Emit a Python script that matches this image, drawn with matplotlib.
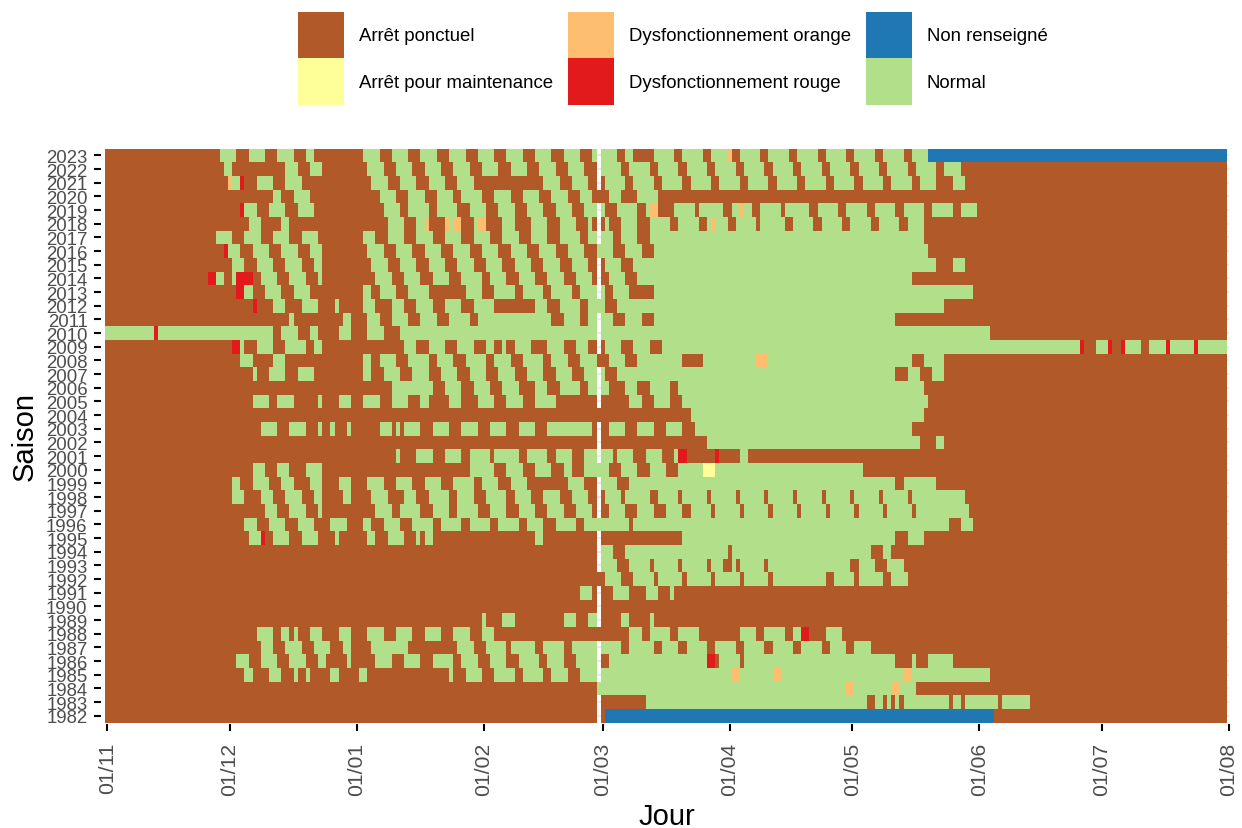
"""
Etat de fonctionnement journalier par saison (1982 - 2023)
"""

import matplotlib
matplotlib.use('Agg')
import matplotlib.pyplot as plt
from matplotlib.colors import BoundaryNorm, ListedColormap
from matplotlib.patches import Patch
import numpy as np

plt.rcParams['font.family'] = ['Liberation Sans', 'DejaVu Sans']

#---------------------------------------------------------------------------------------------------
# Data: runs of "Normal" days (first day, day after last), day 0 = 1 Nov, 274 days in a leap season
#---------------------------------------------------------------------------------------------------

n_days = 274
day_29feb = 120

normal_1982 = []
normal_1983 = [(132,186),(188,190),(191,192),(193,194),(195,206),(207,209),(210,218),(219,226)]
normal_1984 = [(120,181),(183,192),(194,198)]
normal_1985 = [(34,36),(40,43),(46,47),(49,50),(55,57),(62,64),(84,85),(88,92),(95,100),(102,107),(109,113),(116,120),
               (121,153),(155,163),(165,195),(197,216)]
normal_1986 = [(32,35),(38,42),(45,49),(52,54),(59,60),(66,70),(73,77),(80,85),(87,91),(94,98),(101,106),(108,112),
               (115,120),(123,147),(150,155),(156,193),(197,198),(201,207)]
normal_1987 = [(38,41),(44,48),(51,55),(58,60),(65,74),(86,90),(93,98),(99,105),(107,112),(114,120),(121,126),(128,134),
               (136,140),(142,147),(149,154),(156,161),(163,168),(170,175),(177,181),(183,187)]
normal_1988 = [(37,41),(43,45),(46,47),(50,53),(57,60),(64,68),(71,75),(78,82),(85,89),(92,95),(128,131),(133,138),
               (140,145),(155,159),(161,166),(168,170),(176,180)]
normal_1989 = [(92,93),(97,100),(112,115),(118,120),(126,128),(133,134)]
normal_1990 = []
normal_1991 = [(116,119),(124,128),(132,135),(138,139)]
normal_1992 = [(122,126),(129,134),(135,141),(142,148),(149,155),(156,162),(163,176),(178,183),(184,190),(192,196)]
normal_1993 = [(121,125),(128,133),(134,140),(141,147),(148,151),(153,154),(155,161),(162,182),(184,188),(191,195)]
normal_1994 = [(121,124),(127,152),(153,187),(190,192)]
normal_1995 = [(35,38),(41,45),(48,52),(56,57),(64,66),(69,73),(76,77),(78,80),(105,107),(141,193),(196,200)]
normal_1996 = [(34,37),(40,44),(47,51),(55,59),(63,65),(68,72),(75,80),(82,87),(89,94),(96,101),(103,107),(110,115),
               (117,128),(129,206),(209,212)]
normal_1997 = [(39,42),(45,49),(52,53),(66,70),(72,77),(80,84),(86,91),(94,98),(101,105),(108,112),(115,119),(123,127),
               (130,134),(137,141),(143,148),(149,155),(156,162),(163,169),(170,176),(177,183),(184,190),(191,197),(198,211)]
normal_1998 = [(31,34),(38,41),(44,48),(51,53),(58,60),(65,69),(73,76),(79,84),(86,90),(93,98),(100,104),(107,111),
               (114,118),(122,126),(127,133),(135,140),(141,147),(148,154),(155,161),(162,168),(169,175),(176,182),
               (183,189),(190,196),(197,210)]
normal_1999 = [(31,33),(36,40),(43,46),(50,53),(57,60),(64,68),(71,75),(78,82),(85,90),(92,96),(99,103),(113,117),
               (121,125),(128,193),(195,203)]
normal_2000 = [(36,39),(42,45),(49,53),(89,95),(98,102),(105,109),(112,114),(117,123),(126,130),(133,137),(140,146),(149,185)]
normal_2001 = [(71,72),(76,80),(83,87),(89,94),(95,101),(103,108),(110,114),(117,124),(125,129),(132,136),(139,140),(155,157)]
normal_2002 = [(147,199),(203,205)]
normal_2003 = [(38,42),(45,49),(52,53),(55,56),(59,60),(67,70),(71,72),(73,77),(80,84),(87,91),(94,98),(101,105),
               (108,119),(123,127),(130,134),(137,141),(144,197)]
normal_2004 = [(143,200)]
normal_2005 = [(36,40),(42,46),(52,53),(57,60),(63,67),(70,74),(77,79),(84,87),(91,95),(98,102),(105,110),(128,131),
               (134,138),(141,201)]
normal_2006 = [(70,80),(83,87),(90,94),(97,101),(105,108),(111,116),(118,123),(127,130),(133,138),(140,200)]
normal_2007 = [(36,37),(40,44),(47,51),(63,65),(68,72),(75,79),(82,86),(89,93),(96,100),(103,107),(110,114),(117,122),
               (125,193),(196,199),(202,205)]
normal_2008 = [(33,36),(41,44),(63,65),(67,71),(74,79),(81,85),(88,93),(95,99),(102,107),(109,113),(116,120),(123,127),
               (130,141),(146,197),(200,205)]
normal_2009 = [(33,34),(37,41),(44,49),(51,53),(73,76),(79,83),(86,90),(93,95),(97,98),(100,104),(108,112),(115,118),
               (122,126),(129,133),(136,238),(242,245),(249,253),(255,259),(260,266),(267,274)]
normal_2010 = [(0,12),(13,41),(43,47),(50,52),(57,60),(64,68),(72,216)]
normal_2011 = [(45,46),(58,60),(64,67),(70,74),(77,81),(84,89),(91,109),(112,116),(118,124),(127,131),(134,193)]
normal_2012 = [(41,44),(48,52),(56,57),(63,66),(70,73),(76,80),(83,87),(90,95),(105,108),(111,116),(118,122),(125,205)]
normal_2013 = [(34,36),(39,43),(46,50),(63,65),(67,71),(74,79),(88,92),(95,100),(102,107),(109,114),(116,122),(124,128),(134,212)]
normal_2014 = [(27,29),(31,32),(38,42),(45,49),(52,53),(66,70),(73,77),(80,84),(87,92),(94,98),(101,105),(108,112),
               (115,119),(123,127),(130,197)]
normal_2015 = [(31,34),(37,41),(44,48),(51,53),(65,69),(72,76),(79,83),(86,90),(93,97),(100,104),(107,111),(114,118),
               (122,126),(129,203),(207,210)]
normal_2016 = [(30,33),(36,40),(43,47),(50,53),(64,68),(71,75),(78,82),(85,89),(92,96),(99,103),(106,110),(113,117),
               (120,124),(127,131),(134,201)]
normal_2017 = [(27,31),(34,38),(41,45),(48,52),(63,66),(69,73),(76,80),(83,87),(90,94),(97,101),(104,108),(111,116),
               (118,124),(126,130),(133,200)]
normal_2018 = [(35,38),(43,45),(69,73),(76,78),(84,85),(90,91),(97,100),(104,108),(111,115),(118,119),(122,123),(126,130),
               (133,138),(140,145),(147,148),(149,152),(154,159),(160,166),(168,173),(175,180),(182,187),(189,194),(196,200)]
normal_2019 = [(34,37),(40,44),(47,51),(68,72),(74,79),(81,86),(89,93),(96,100),(103,107),(110,114),(117,122),(125,130),
               (132,133),(139,144),(145,151),(153,155),(156,158),(160,165),(166,172),(174,179),(181,186),(188,193),
               (195,200),(202,207),(209,213)]
normal_2020 = [(41,43),(46,50),(67,71),(74,78),(81,85),(87,92),(95,99),(102,106),(109,113),(116,119),(123,126),(130,135)]
normal_2021 = [(31,33),(37,41),(44,48),(65,69),(72,76),(79,83),(86,90),(107,111),(114,118),(122,127),(129,134),(136,141),
               (143,148),(150,155),(157,162),(164,169),(171,176),(178,183),(185,190),(192,197),(199,203),(207,210)]
normal_2022 = [(29,31),(44,47),(50,53),(64,68),(71,75),(78,82),(85,89),(92,96),(99,103),(106,110),(113,117),(121,126),
               (128,133),(135,140),(142,147),(149,154),(156,161),(163,168),(170,175),(177,182),(184,189),(191,196),
               (198,203),(205,209)]
normal_2023 = [(28,32),(35,39),(42,46),(49,51),(63,67),(70,74),(77,81),(84,88),(91,95),(98,102),(105,109),(112,116),
               (119,125),(127,129),(134,139),(141,146),(148,152),(155,160),(162,167),(169,174),(176,181),(183,188),
               (190,195),(197,201)]

# Other states: (season, first day, day after last)
orange_runs = [(2023,152,153),(2021,30,31),(2019,133,135),(2019,155,156),(2018,78,79),(2018,83,84),(2018,85,87),
               (2018,91,93),(2018,148,149),(2008,159,162),(1985,153,155),(1985,163,165),(1985,195,197),
               (1984,181,183),(1984,192,194)]
red_runs = [(2021,33,34),(2019,33,34),(2016,29,30),(2014,25,27),(2014,32,36),(2013,32,34),(2012,36,37),(2010,12,13),
            (2009,31,33),(2009,238,239),(2009,245,246),(2009,248,249),(2009,259,260),(2009,266,267),
            (2001,140,142),(2001,149,150),(1995,38,39),(1988,170,172),(1986,147,149)]
yellow_runs = [(2000,146,149)]
blue_runs = [(2023,201,274),(1982,122,217)]

seasons = np.arange(1982, 2024)
normal_runs = [normal_1982, normal_1983, normal_1984, normal_1985, normal_1986, normal_1987, normal_1988,
               normal_1989, normal_1990, normal_1991, normal_1992, normal_1993, normal_1994, normal_1995,
               normal_1996, normal_1997, normal_1998, normal_1999, normal_2000, normal_2001, normal_2002,
               normal_2003, normal_2004, normal_2005, normal_2006, normal_2007, normal_2008, normal_2009,
               normal_2010, normal_2011, normal_2012, normal_2013, normal_2014, normal_2015, normal_2016,
               normal_2017, normal_2018, normal_2019, normal_2020, normal_2021, normal_2022, normal_2023]

state_labels = ['Arrêt ponctuel', 'Arrêt pour maintenance', 'Dysfonctionnement orange',
                'Dysfonctionnement rouge', 'Non renseigné', 'Normal']
state_colors = ['#B15928', '#FFFF99', '#FDBF6F', '#E31A1C', '#1F78B4', '#B2DF8A']

month_days = [0, 30, 61, 92, 121, 152, 182, 213, 243, 274]
month_labels = ['01/11', '01/12', '01/01', '01/02', '01/03', '01/04', '01/05', '01/06', '01/07', '01/08']

#---------------------------------------------------------------------------------------------------
# Build grid
#---------------------------------------------------------------------------------------------------

grid = np.zeros((len(seasons), n_days))
for i, runs in enumerate(normal_runs):
    for start, stop in runs:
        grid[i, start:stop] = 5
for state, runs in zip([1, 2, 3, 4], [yellow_runs, orange_runs, red_runs, blue_runs]):
    for season, start, stop in runs:
        grid[season - seasons[0], start:stop] = state

# 29 Feb only exists in leap years
for i, season in enumerate(seasons):
    if season % 4 != 0:
        grid[i, day_29feb] = np.nan

#---------------------------------------------------------------------------------------------------
# Plot
#---------------------------------------------------------------------------------------------------

width, height = 1242, 829
fig = plt.figure(figsize=(width/100, height/100), dpi=100)
ax = fig.add_axes([105.25/width, 1 - 723.6/height, (1229 - 105.25)/width, (723.6 - 149.6)/height])

x_edges = np.arange(n_days + 1) - 0.5
y_edges = np.arange(len(seasons) + 1) - 0.5
cmap = ListedColormap(state_colors)
norm = BoundaryNorm(np.arange(7) - 0.5, cmap.N)
ax.pcolormesh(x_edges, y_edges, np.ma.masked_invalid(grid), cmap=cmap, norm=norm, antialiased=False, zorder=2)

ax.set_xlim(-0.5, n_days)
ax.set_ylim(-0.5, len(seasons) - 0.5)
ax.grid(axis='y', color='#EBEBEB', lw=1.4)
ax.set_axisbelow(True)
for s in ax.spines.values():
    s.set_visible(False)
ax.spines['left'].set_position(('outward', 2.9))
ax.spines['bottom'].set_position(('outward', 1))

ax.set_xticks(month_days, labels=month_labels, rotation=90, ha='center', va='top')
ax.set_yticks(np.arange(len(seasons)), labels=seasons)
ax.tick_params(axis='x', length=4.8, width=1.5, color='k', labelsize=15.3, labelcolor='#4D4D4D', pad=8)
ax.tick_params(axis='y', length=4.8, width=1.5, color='k', labelsize=13.4, labelcolor='#4D4D4D', pad=5)
ax.set_xlabel('Jour', size=21, labelpad=5)
ax.set_ylabel('Saison', size=21, labelpad=5.5)

handles = [Patch(facecolor=c, edgecolor='none', label=l) for c, l in zip(state_colors, state_labels)]
fig.legend(handles=handles, ncol=3, loc='upper left', bbox_to_anchor=(298/width, 1 - 12.5/height),
           borderaxespad=0, borderpad=0, frameon=False, fontsize=13.4, handlelength=2.47, handleheight=3.47,
           labelspacing=0, handletextpad=0.8, columnspacing=0.8)

plt.savefig('out.png', dpi=100)
